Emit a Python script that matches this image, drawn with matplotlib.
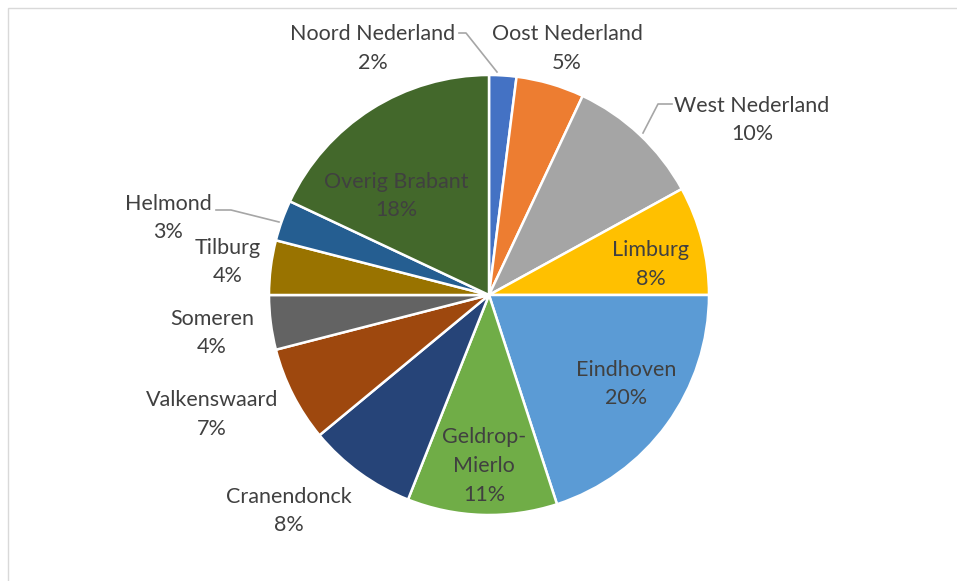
import matplotlib
matplotlib.use("Agg")
import matplotlib.pyplot as plt
import numpy as np
from matplotlib.patches import Rectangle

# data
regions = ["Noord Nederland", "Oost Nederland", "West Nederland", "Limburg",
           "Eindhoven", "Geldrop-\nMierlo", "Cranendonck", "Valkenswaard",
           "Someren", "Tilburg", "Helmond", "Overig Brabant"]
shares = [2, 5, 10, 8, 20, 11, 8, 7, 4, 4, 3, 18]
colors = ["#4472C4", "#ED7D31", "#A5A5A5", "#FFC000", "#5B9BD5", "#70AD47",
          "#264478", "#9E480E", "#636363", "#997300", "#255E91", "#43682B"]

# label placement (radius units)
label_pos = [(-0.53, 1.12), (0.355, 1.12), (1.195, 0.795), (0.736, 0.14),
             (0.623, -0.405), (-0.023, -0.777), (-0.909, -0.982), (-1.259, -0.545),
             (-1.259, -0.173), (-1.186, 0.15), (-1.459, 0.35), (-0.423, 0.45)]

plt.rcParams['font.family'] = ['Lato', 'DejaVu Sans']

fig = plt.figure(figsize=(9.57, 5.81), dpi=100)
ax = fig.add_axes([0, 0, 1, 1])
R = 220.0
cx, cy = 489, 295

wedges, _ = ax.pie(shares, colors=colors, startangle=90, counterclock=False,
                   radius=1, wedgeprops=dict(edgecolor="white", linewidth=1.8))
ax.set_aspect("auto")
ax.set_xlim(-cx / R, (957 - cx) / R)
ax.set_ylim(-(581 - cy) / R, cy / R)
ax.axis("off")

for name, val, (x, y) in zip(regions, shares, label_pos):
    ax.text(x, y, f"{name}\n{val}%", ha="center", va="center", fontsize=15.5,
            color="#404040", linespacing=1.55)

# leader lines
def px(x, y):
    return ((x - cx) / R, (cy - y) / R)

for pts in [[(459, 33), (466, 33), (497, 72)],
            [(672, 104), (658, 104), (643, 133)],
            [(216, 210), (231, 210), (279, 222)]]:
    xy = np.array([px(*p) for p in pts])
    ax.plot(xy[:, 0], xy[:, 1], color="#A6A6A6", lw=1.2)

fig.patches.append(Rectangle((8 / 957, -0.1), 1.1, 1 - 8 / 581 + 0.1,
                             transform=fig.transFigure, fill=False,
                             edgecolor="#D9D9D9", lw=1))

fig.savefig("out.png", dpi=100)
